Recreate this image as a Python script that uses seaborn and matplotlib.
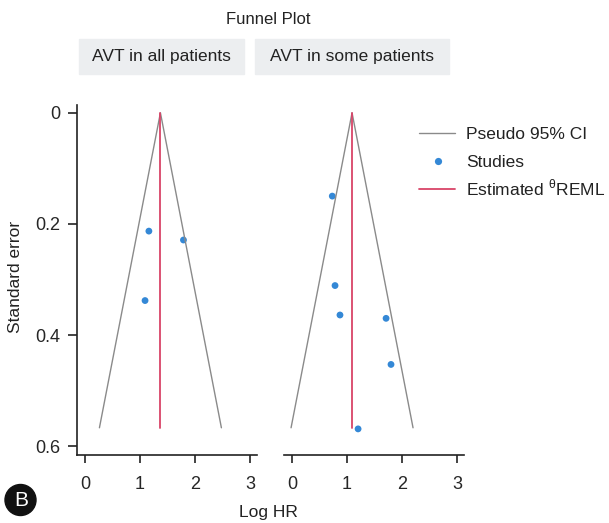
import numpy as np
import pandas as pd
import matplotlib.pyplot as plt
import matplotlib.patches as mpatches
from matplotlib.lines import Line2D
import seaborn as sns

# Data
panels = ['AVT in all patients', 'AVT in some patients']
theta = [1.37, 1.09]          # estimated log HR (REML) per panel
se_max = [0.567, 0.567]       # funnel depth
all_logHR = [1.16, 1.79, 1.09]
all_se = [0.213, 0.229, 0.338]
some_logHR = [0.73, 0.78, 0.87, 1.71, 1.80, 1.20]
some_se = [0.150, 0.311, 0.364, 0.370, 0.453, 0.569]
x_ticks = [0, 1, 2, 3]
y_ticks = [0, 0.2, 0.4, 0.6]
legend_labels = ['Pseudo 95% CI', 'Studies', r'Estimated $^{\mathregular{θ}}$REML']

df = pd.DataFrame({
    'panel': [panels[0]] * len(all_se) + [panels[1]] * len(some_se),
    'logHR': all_logHR + some_logHR,
    'se': all_se + some_se,
})

sns.set_style('white')
plt.rcParams['font.family'] = ['Liberation Sans', 'DejaVu Sans']
plt.rcParams['font.size'] = 12.5

W, H = 609, 523
fig = plt.figure(figsize=(W / 100, H / 100), dpi=100)

grey = '#8a8a8a'
red = '#d94468'
blue = '#3488d6'
ink = '#222222'

def px_box(x0, y0, x1, y1):
    return [x0 / W, 1 - y1 / H, (x1 - x0) / W, (y1 - y0) / H]

def fx(x):
    return x / W

def fy(y):
    return 1 - y / H

axes = [fig.add_axes(px_box(77, 105, 257, 455)),
        fig.add_axes(px_box(284, 105, 464, 455))]

for i, ax in enumerate(axes):
    t, s = theta[i], se_max[i]
    funnel = pd.DataFrame({'x': [t - 1.96 * s, t, t + 1.96 * s],
                           'y': [s, 0, s]})
    ax.plot(funnel['x'], funnel['y'], color=grey, lw=1.0)
    ax.plot([t, t], [0, s], color=red, lw=1.3)
    sub = df[df['panel'] == panels[i]]
    sns.scatterplot(data=sub, x='logHR', y='se', ax=ax, color=blue,
                    s=24, edgecolor='none', legend=False)
    ax.set_xlim(-0.15, 3.13)
    ax.set_ylim(0.616, -0.014)
    ax.set_xticks(x_ticks)
    ax.set_xticklabels([str(v) for v in x_ticks])
    ax.set_xlabel('')
    ax.set_ylabel('')
    ax.tick_params(axis='x', direction='out', length=6, width=1.2,
                   color=ink, labelsize=13, pad=9, bottom=True)
    ax.tick_params(axis='y', direction='out', length=6.5, width=1.2,
                   color=ink, labelsize=13, pad=5.5, left=True)
    for sp in ['top', 'right']:
        ax.spines[sp].set_visible(False)
    for sp in ['bottom', 'left']:
        ax.spines[sp].set_linewidth(1.2)
        ax.spines[sp].set_color(ink)
    ax.patch.set_alpha(0)

axes[0].set_yticks(y_ticks)
axes[0].set_yticklabels(['0', '0.2', '0.4', '0.6'])
axes[1].set_yticks([])
axes[1].spines['left'].set_visible(False)

# facet strips
strips = [(79, 39, 244, 74), (255, 39, 449, 74)]
for (x0, y0, x1, y1), name in zip(strips, panels):
    fig.patches.append(mpatches.Rectangle((fx(x0), fy(y1)), (x1 - x0) / W, (y1 - y0) / H,
                                          transform=fig.transFigure, color='#eceef0', zorder=0))
    fig.text(fx((x0 + x1) / 2), fy((y0 + y1) / 2), name, ha='center', va='center',
             fontsize=12.5, color=ink)

fig.text(fx(268), fy(19), 'Funnel Plot', ha='center', va='center', fontsize=12, color=ink)
fig.text(fx(268), fy(512), 'Log HR', ha='center', va='center', fontsize=12.5, color=ink)
fig.text(fx(16), fy(277), 'Standard error', ha='center', va='center', rotation=90,
         fontsize=12.5, color=ink)

# legend, drawn entry by entry
rows = [132.5, 161, 189]
fig.add_artist(Line2D([fx(419), fx(455)], [fy(rows[0])] * 2, color=grey, lw=1.0,
                      transform=fig.transFigure))
fig.add_artist(Line2D([fx(438)], [fy(rows[1])], color=blue, marker='o', ls='none',
                      markersize=5.2, markeredgecolor='none', transform=fig.transFigure))
fig.add_artist(Line2D([fx(419), fx(455)], [fy(rows[2])] * 2, color=red, lw=1.3,
                      transform=fig.transFigure))
for r, lab in zip(rows, legend_labels):
    fig.text(fx(466), fy(r + 6.3), lab, ha='left', va='baseline', fontsize=12.5, color=ink)

# panel letter
fig.patches.append(mpatches.Ellipse((fx(20.5), fy(500)), 31 / W, 31 / H,
                                    transform=fig.transFigure, color='#111111'))
fig.text(fx(21), fy(500.5), 'B', ha='center', va='center', fontsize=15, color='white')

fig.savefig('out.png', dpi=100)
